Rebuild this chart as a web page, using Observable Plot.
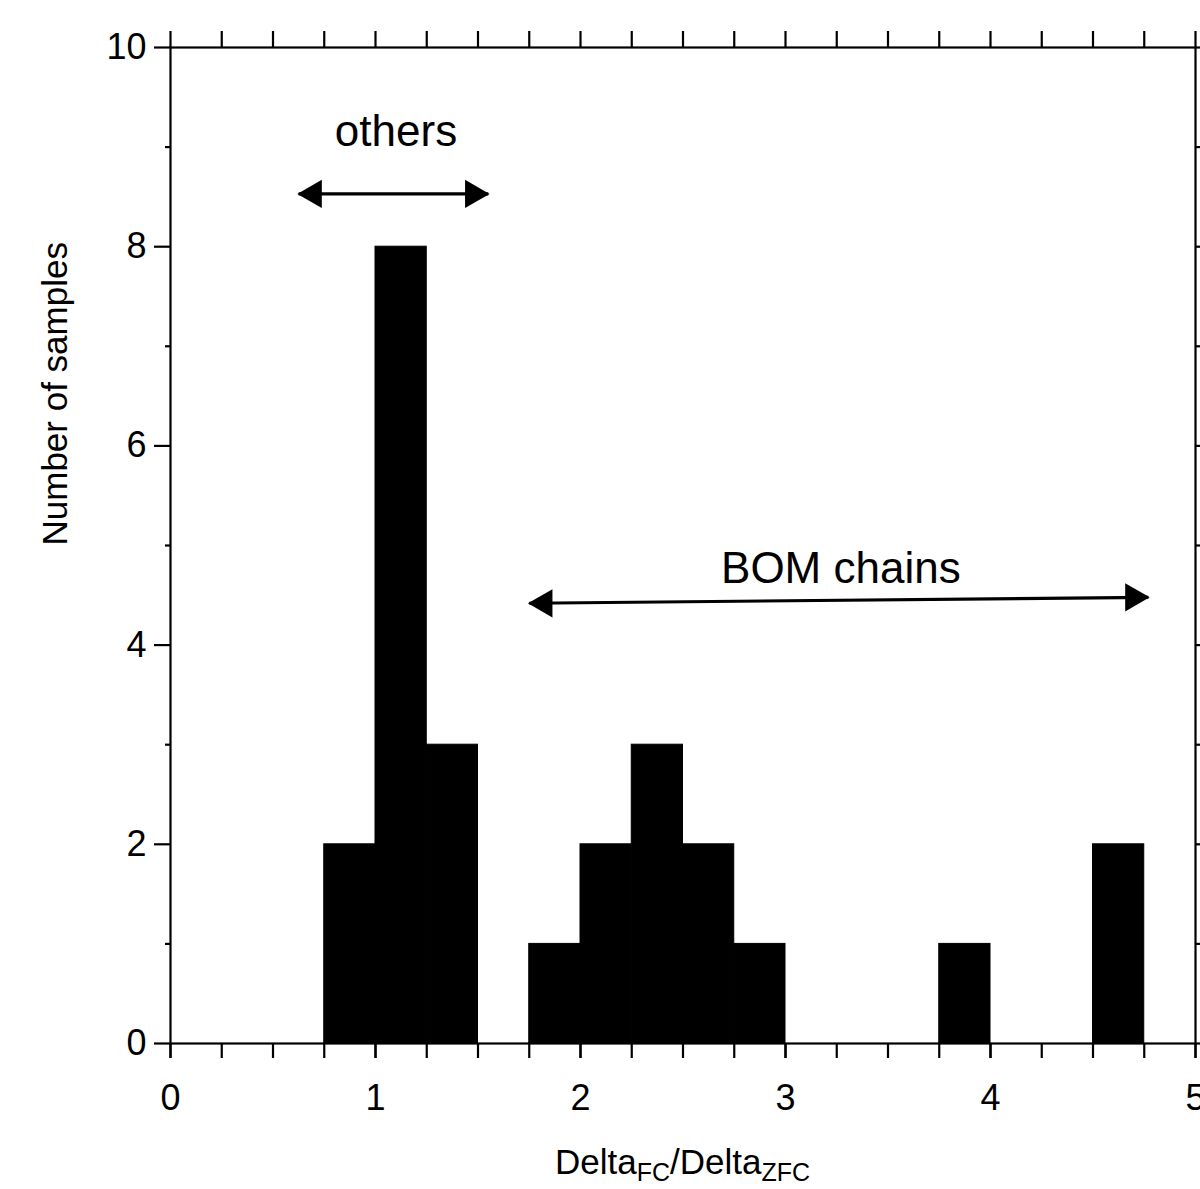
<!DOCTYPE html>
<html>
<head>
<meta charset="utf-8">
<script src="https://cdn.jsdelivr.net/npm/d3@7"></script>
<script src="https://cdn.jsdelivr.net/npm/@observablehq/plot@0.6"></script>
<style>
  html, body { margin: 0; padding: 0; background: #fff; }
  #chart { width: 1200px; height: 1189px; }
</style>
</head>
<body>
<div id="chart"></div>
<script>
// Histogram of Delta_FC / Delta_ZFC, bins 0.25 wide
const binStart = [0.75, 1.0, 1.25, 1.75, 2.0, 2.25, 2.5, 2.75, 3.75, 4.5];
const binEnd   = [1.0, 1.25, 1.5, 2.0, 2.25, 2.5, 2.75, 3.0, 4.0, 4.75];
const counts   = [2, 8, 3, 1, 2, 3, 2, 1, 1, 2];

// Axis ticks
const xMajorTicks = [0, 1, 2, 3, 4, 5];
const xMinorTicks = d3.range(0, 21).map(i => i * 0.25);
const yMajorTicks = [0, 2, 4, 6, 8, 10];
const yMinorTicks = [1, 3, 5, 7, 9];

// Group annotations: label and double-headed range arrow
const groupLabels = ["others", "BOM chains"];
const labelX = [1.1, 3.27];
const labelY = [9.15, 4.77];
const arrowX1 = [0.625, 1.75];
const arrowX2 = [1.55, 4.77];
const arrowY1 = [8.53, 4.42];
const arrowY2 = [8.53, 4.48];

const bins = binStart.map((x1, i) => ({x1, x2: binEnd[i], n: counts[i]}));
const groups = groupLabels.map((label, i) => ({
  label, lx: labelX[i], ly: labelY[i],
  x1: arrowX1[i], x2: arrowX2[i], y1: arrowY1[i], y2: arrowY2[i]
}));

const plot = Plot.plot({
  width: 1200,
  height: 1189,
  marginLeft: 170,
  marginRight: 5,
  marginTop: 47,
  marginBottom: 146,
  style: {
    fontFamily: "'Liberation Sans', Arial, Helvetica, sans-serif",
    fontSize: "36px",
    background: "#fff",
    color: "#000"
  },
  x: {domain: [0, 5]},
  y: {domain: [0, 10]},
  marks: [
    Plot.rectY(bins, {x1: "x1", x2: "x2", y: "n", fill: "#000", stroke: "#000", strokeWidth: 1, inset: 0}),
    Plot.frame({stroke: "#000", strokeWidth: 2.2}),
    // bottom axis: all quarter ticks, labels on integers
    Plot.axisX({anchor: "bottom", ticks: xMinorTicks, tickSize: 15, strokeWidth: 2.2, tickFormat: () => "", label: null}),
    Plot.axisX({anchor: "bottom", ticks: xMajorTicks, tickSize: 15, tickPadding: 26, strokeWidth: 2.2, tickFormat: d3.format("d"), label: null}),
    // top axis ticks pointing outward
    Plot.axisX({anchor: "top", ticks: xMinorTicks, tickSize: 17, strokeWidth: 2.2, tickFormat: () => "", label: null}),
    // left axis
    Plot.axisY({anchor: "left", ticks: yMajorTicks, tickSize: 16, tickPadding: 8, strokeWidth: 2.2, tickFormat: d3.format("d"), label: null}),
    Plot.axisY({anchor: "left", ticks: yMinorTicks, tickSize: 5, strokeWidth: 2.2, tickFormat: () => "", label: null}),
    // right axis ticks
    Plot.axisY({anchor: "right", ticks: yMajorTicks, tickSize: 10, strokeWidth: 2.2, tickFormat: () => "", label: null}),
    Plot.axisY({anchor: "right", ticks: yMinorTicks, tickSize: 6, strokeWidth: 2.2, tickFormat: () => "", label: null}),
    // y axis title
    Plot.text(["Number of samples"], {frameAnchor: "left", rotate: -90, dx: -115, fontSize: 35, fill: "#000"}),
    // group range arrows
    Plot.link(groups, {x1: "x1", x2: "x2", y1: "y1", y2: "y2", stroke: "#000", strokeWidth: 3.2}),
    Plot.dot(groups, {x: "x1", y: "y1", symbol: "triangle", r: 10.5, rotate: -90, dx: 15, fill: "#000", stroke: "none"}),
    Plot.dot(groups, {x: "x2", y: "y2", symbol: "triangle", r: 10.5, rotate: 90, dx: -15, fill: "#000", stroke: "none"}),
    Plot.text(groups, {x: "lx", y: "ly", text: "label", fontSize: 44, fill: "#000"})
  ]
});

// x axis title with subscripts
const xs = plot.scale("x");
const xTitle = d3.select(plot).append("text")
  .attr("x", (xs.apply(0) + xs.apply(5)) / 2)
  .attr("y", 1174)
  .attr("text-anchor", "middle")
  .attr("fill", "#000")
  .attr("font-size", 35);
xTitle.append("tspan").text("Delta");
xTitle.append("tspan").attr("font-size", 25).attr("dy", 7).text("FC");
xTitle.append("tspan").attr("dy", -7).text("/Delta");
xTitle.append("tspan").attr("font-size", 25).attr("dy", 7).text("ZFC");

document.getElementById("chart").appendChild(plot);
</script>
</body>
</html>
